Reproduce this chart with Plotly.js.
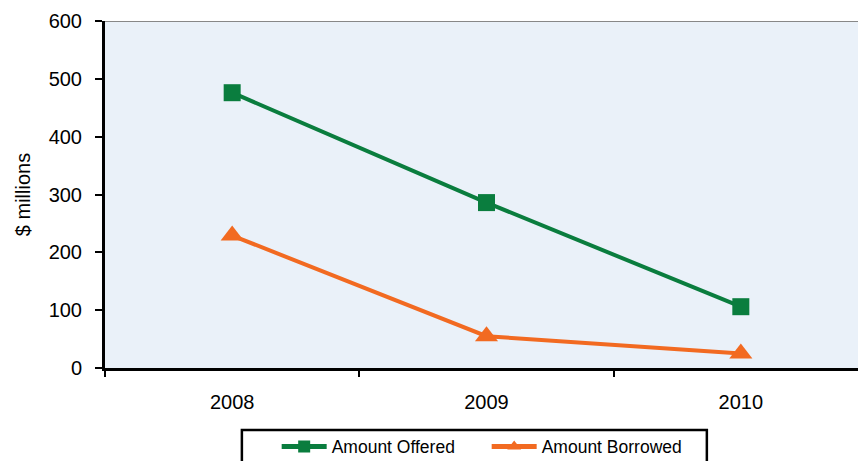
<!DOCTYPE html>
<html>
<head>
<meta charset="utf-8">
<script src="https://cdn.plot.ly/plotly-3.0.1.min.js"></script>
<style>
  html, body { margin: 0; padding: 0; overflow: hidden; background: #fff; }
  #frame { width: 858px; height: 461px; overflow: hidden; position: relative; }
  #chart { width: 868px; height: 480px; position: absolute; left: 0; top: 0; }
</style>
</head>
<body>
<div id="frame"><div id="chart"></div></div>
<script>
// Yearly loan figures, $ millions
const years = ["2008", "2009", "2010"];
const amountOffered = [476, 286, 106];
const amountBorrowed = [229, 55, 25];
const yTicks = [0, 100, 200, 300, 400, 500, 600];

const font = { family: "Liberation Sans, Arial, sans-serif", size: 20, color: "#000" };

const traces = [
  {
    x: years, y: amountOffered, name: "Amount Offered",
    type: "scatter", mode: "lines+markers",
    line: { color: "#0A7D3E", width: 4 },
    marker: { symbol: "square", size: 17, color: "#0A7D3E" }
  },
  {
    x: years, y: amountBorrowed, name: "Amount Borrowed",
    type: "scatter", mode: "lines+markers",
    line: { color: "#F26A21", width: 4 },
    marker: { symbol: "triangle-up", size: 20, color: "#F26A21" }
  }
];

const layout = {
  width: 868, height: 480,
  margin: { l: 105, r: 0, t: 21, b: 112 },
  paper_bgcolor: "#fff",
  plot_bgcolor: "#EAF1F9",
  font: font,
  showlegend: true,
  legend: {
    orientation: "h",
    x: 0.225, xanchor: "left",
    y: -0.175, yanchor: "top",
    borderwidth: 0,
    bgcolor: "rgba(0,0,0,0)",
    font: { family: font.family, size: 17.5, color: "#000" },
    itemsizing: "constant",
    entrywidth: 150, entrywidthmode: "pixels",
    itemwidth: 45
  },
  xaxis: {
    type: "category",
    range: [-0.5, 2.5],
    showgrid: false, zeroline: false,
    showline: true, linecolor: "#000", linewidth: 3,
    ticks: "outside", tickson: "boundaries", ticklen: 6, tickwidth: 2, tickcolor: "#000",
    ticklabelstandoff: 14,
    tickfont: font,
    fixedrange: true
  },
  yaxis: {
    range: [0, 600],
    tickvals: yTicks,
    showgrid: false, zeroline: false,
    showline: true, linecolor: "#000", linewidth: 3,
    ticks: "outside", ticklen: 7, tickwidth: 2, tickcolor: "#000",
    ticklabelstandoff: 9,
    tickfont: font,
    title: { text: "$ millions", font: font, standoff: 13 },
    fixedrange: true
  },
  shapes: [
    // thin grey frame line along the top of the plot area
    { type: "line", xref: "paper", yref: "y", x0: 0, x1: 1, y0: 600, y1: 600,
      line: { color: "#888", width: 2 } },
    // legend frame
    { type: "rect", xref: "paper", yref: "paper",
      x0: 0.1794, x1: 0.7888, y0: -0.179, y1: -0.40,
      line: { color: "#000", width: 2.5 }, fillcolor: "#fff", layer: "above" }
  ]
};

Plotly.newPlot("chart", traces, layout, { displayModeBar: false, staticPlot: true });
</script>
</body>
</html>
